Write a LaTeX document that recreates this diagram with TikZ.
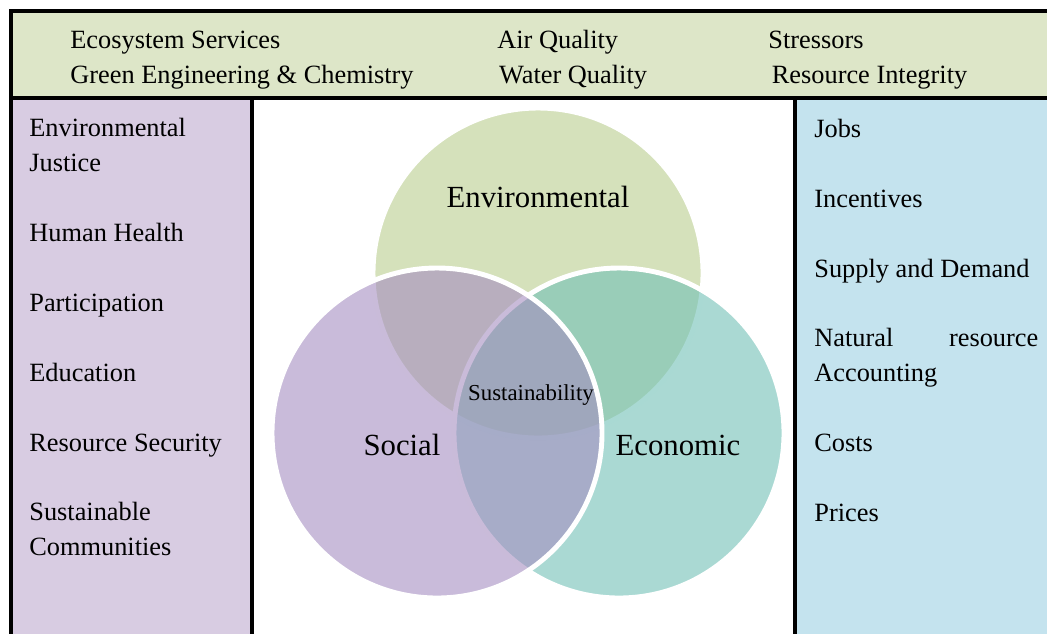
\documentclass[tikz,border=0pt]{standalone}
\usepackage{fontspec}
\setmainfont{Liberation Serif}

\definecolor{bandgreen}{RGB}{221,230,200}
\definecolor{socialpanel}{RGB}{216,204,226}
\definecolor{econpanel}{RGB}{196,227,238}
\definecolor{envfill}{RGB}{185,205,142}
\definecolor{econfill}{RGB}{113,192,182}
\definecolor{socialfill}{RGB}{165,142,193}

\begin{document}
\begin{tikzpicture}[x=0.02cm,y=-0.02cm,
		item/.style={anchor=base west,inner sep=0pt,align=left,
			font=\fontsize{15}{19.6}\selectfont},
		circ/.style={draw=white,line width=2.8pt,fill opacity=0.6},
		circlabel/.style={anchor=base,inner sep=0pt,
			font=\fontsize{17.5}{21}\selectfont}]
		
		% Frame
		\useasboundingbox (0,0) rectangle (1047,633);
		\clip (0,0) rectangle (1047,633);
		\draw[line width=1.8pt,fill=bandgreen] (11,11) rectangle (1070,98);
		\draw[line width=1.8pt,fill=socialpanel] (11,98) rectangle (252,660);
		\draw[line width=1.8pt,fill=econpanel] (795,98) rectangle (1070,660);
		
		% Top band (base = last line)
		\node[item] (eco) at (70,83) {Ecosystem Services\\Green Engineering \& Chemistry};
		\node[item] (air) at (497,83) {Air Quality\\\hspace{1pt}Water Quality};
		\node[item] (str) at (768,83) {Stressors\\\hspace{2pt}Resource Integrity};
		
		% Social side
		\node[item] (ej) at (29,171) {Environmental\\Justice};
		\node[item] (hh) at (29,241) {Human Health};
		\node[item] (pa) at (29,311) {Participation};
		\node[item] (ed) at (29,381) {Education};
		\node[item] (rs) at (29,451) {Resource Security};
		\node[item] (sc) at (29,555) {Sustainable\\Communities};
		
		% Economic side
		\node[item] (jo) at (814,137) {Jobs};
		\node[item] (in) at (814,207) {Incentives};
		\node[item] (sd) at (814,277) {Supply and Demand};
		\node[item] (nr) at (814,381) {\makebox[4.48cm][s]{Natural resource}\\Accounting};
		\node[item] (co) at (814,451) {Costs};
		\node[item] (pr) at (814,521) {Prices};
		
		% Circles
		\draw[circ,fill=envfill] (538,273) circle (165);
		\draw[circ,fill=econfill] (619,433) circle (165);
		\draw[circ,fill=socialfill] (437,433) circle (165);
		
		% Circle labels
		\node[circlabel] (env) at (538,207) {Environmental};
		\node[circlabel] (soc) at (402,455) {Social};
		\node[circlabel] (ecn) at (678,455) {Economic};
		\node[circlabel,font=\fontsize{13}{15}\selectfont] (sus) at (531,400) {Sustainability};
		
	\end{tikzpicture}
\end{document}
